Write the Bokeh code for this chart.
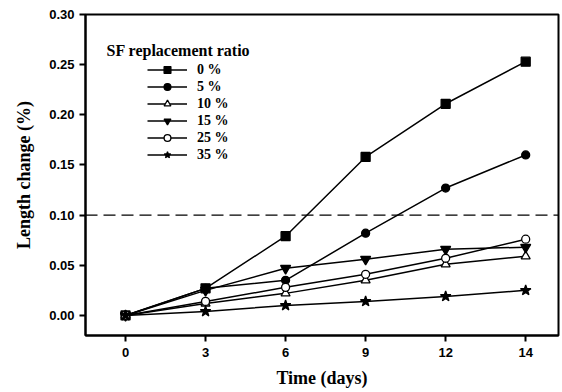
from bokeh.plotting import figure
from bokeh.models import (Range1d, FixedTicker, Span, Label, Legend, LegendItem,
                          ColumnDataSource)
from bokeh.embed import file_html
from bokeh.resources import INLINE

days = [0, 3, 6, 9, 12, 14]
pos = list(range(len(days)))  # Origin-style equally spaced categories

series_names = ["0 %", "5 %", "10 %", "15 %", "25 %", "35 %"]
sf0 = [0.000, 0.027, 0.079, 0.158, 0.211, 0.253]
sf5 = [0.000, 0.027, 0.035, 0.082, 0.127, 0.160]
sf10 = [0.000, 0.012, 0.022, 0.035, 0.051, 0.059]
sf15 = [0.000, 0.025, 0.047, 0.056, 0.066, 0.068]
sf25 = [0.000, 0.014, 0.028, 0.041, 0.057, 0.076]
sf35 = [0.000, 0.004, 0.010, 0.014, 0.019, 0.025]
y_ticks = [0.00, 0.05, 0.10, 0.15, 0.20, 0.25, 0.30]
limit = 0.10

p = figure(width=560, height=390, output_backend="svg", toolbar_location=None,
           x_range=Range1d(-0.5, 5.41), y_range=Range1d(-0.02, 0.30),
           min_border_left=85, min_border_top=14, min_border_bottom=50,
           min_border_right=2)
p.background_fill_color = "white"
p.border_fill_color = "white"
p.outline_line_color = "black"
p.outline_line_width = 2
p.xgrid.visible = False
p.ygrid.visible = False

SANS = "Liberation Sans"
SERIF = "Liberation Serif"

p.xaxis.ticker = FixedTicker(ticks=pos)
p.xaxis.major_label_overrides = {i: str(d) for i, d in zip(pos, days)}
p.yaxis.ticker = FixedTicker(ticks=y_ticks)
p.yaxis.formatter.use_scientific = False
p.yaxis.major_label_overrides = {t: f"{t:.2f}" for t in y_ticks}
for ax in (p.xaxis, p.yaxis):
    ax.axis_line_width = 2
    ax.major_tick_line_width = 2
    ax.major_tick_in = 0
    ax.major_tick_out = 6
    ax.minor_tick_line_color = None
    ax.major_label_text_font = SANS
    ax.major_label_text_font_style = "bold"
    ax.major_label_text_font_size = "13px"
    ax.major_label_text_color = "black"
    ax.axis_label_text_font = SERIF
    ax.axis_label_text_font_style = "bold"
    ax.axis_label_text_color = "black"
    ax.axis_label_text_font_size = "18px"
p.xaxis.major_label_standoff = 6
p.yaxis.major_label_standoff = 5
p.xaxis.axis_label = "Time (days)"
p.yaxis.axis_label = "Length change (%)"
p.xaxis.axis_label_standoff = 8
p.yaxis.axis_label_standoff = 12

p.add_layout(Span(location=limit, dimension="width", line_color="black",
                  line_dash="12 6", line_width=1.2))

specs = [
    (sf0, "square", 9, "black"),
    (sf5, "circle", 8, "black"),
    (sf10, "triangle", 9, None),
    (sf15, "inverted_triangle", 10, "black"),
    (sf25, "circle", 8, None),
    (sf35, "star", 11, "black"),
]
items = []
for name, (vals, marker, size, fill) in zip(series_names, specs):
    src = ColumnDataSource(dict(x=pos, y=vals))
    r1 = p.line("x", "y", source=src, line_color="black", line_width=1.5)
    r2 = p.scatter("x", "y", source=src, marker=marker, size=size,
                   line_color="black", line_width=1.3,
                   fill_color=fill if fill else "white")
    items.append(LegendItem(label=name, renderers=[r1, r2]))

legend = Legend(items=items, location=(62, 172), orientation="vertical",
                glyph_width=40, glyph_height=17, spacing=0, padding=0, margin=0,
                label_standoff=10, label_height=17,
                border_line_color=None, background_fill_alpha=0,
                label_text_font=SERIF, label_text_font_style="bold",
                label_text_font_size="14px", label_text_color="black")
p.add_layout(legend)

p.add_layout(Label(x=-0.2375, y=0.2646, text="SF replacement ratio",
                   text_font=SERIF, text_font_style="bold",
                   text_font_size="16px", text_baseline="middle",
                   text_align="left", text_color="black"))

open("out.html", "w").write(file_html(p, INLINE))
